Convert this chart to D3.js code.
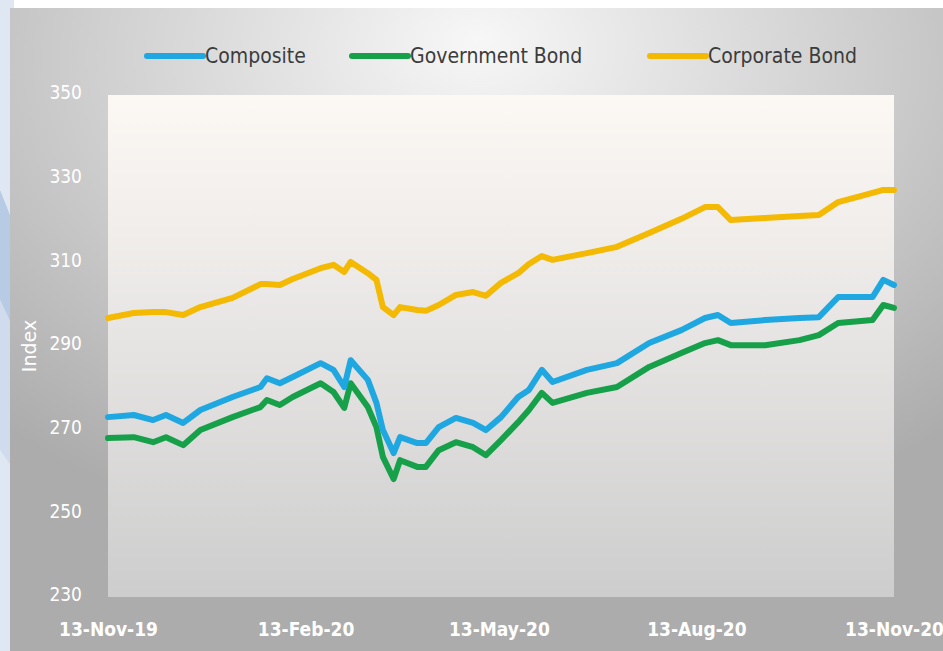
<!DOCTYPE html>
<html><head><meta charset="utf-8">
<script src="https://cdn.jsdelivr.net/npm/d3@7"></script>
<style>
html,body{margin:0;padding:0;background:#fff;}
svg{display:block;}
</style></head>
<body>
<svg id="chart" width="943" height="651"></svg>
<script>
const dates = ["2019-11-13","2019-11-25","2019-12-04","2019-12-10","2019-12-18","2019-12-26","2020-01-10","2020-01-23","2020-01-26","2020-02-01","2020-02-07","2020-02-20","2020-02-26","2020-03-02","2020-03-05","2020-03-13","2020-03-17","2020-03-20","2020-03-25","2020-03-28","2020-04-05","2020-04-09","2020-04-15","2020-04-23","2020-05-01","2020-05-07","2020-05-14","2020-05-22","2020-05-27","2020-06-02","2020-06-07","2020-06-23","2020-07-07","2020-07-22","2020-08-06","2020-08-17","2020-08-23","2020-08-29","2020-09-14","2020-09-30","2020-10-09","2020-10-18","2020-11-03","2020-11-08","2020-11-13"];
const composite = [273.0,273.5,272.3,273.5,271.6,274.7,277.8,280.2,282.3,281.1,282.6,285.9,284.3,280.2,286.6,281.9,276.4,269.9,264.4,268.2,266.8,266.8,270.6,272.8,271.6,269.9,273.0,277.8,279.5,284.3,281.4,284.3,285.9,290.7,293.8,296.7,297.4,295.5,296.2,296.7,296.9,301.7,301.7,305.8,304.6];
const governmentBond = [268.0,268.2,267.0,268.2,266.3,269.9,273.0,275.4,277.1,275.9,277.8,281.1,279.0,275.2,281.1,275.4,270.6,263.5,258.2,262.7,261.1,261.1,265.1,267.0,265.8,263.9,267.5,271.8,274.7,278.8,276.4,278.8,280.2,285.0,288.3,290.7,291.4,290.2,290.2,291.4,292.6,295.5,296.2,299.8,299.1];
const corporateBond = [296.7,297.9,298.1,298.1,297.4,299.3,301.5,304.8,304.8,304.6,306.0,308.6,309.4,307.7,310.1,307.4,305.8,299.3,297.4,299.3,298.6,298.4,299.8,302.2,302.9,302.0,305.1,307.4,309.6,311.5,310.6,312.2,313.7,317.0,320.4,323.2,323.2,320.1,320.6,321.1,321.3,324.4,326.6,327.3,327.3];
const seriesNames = ["Composite","Government Bond","Corporate Bond"];
const seriesColors = ["#1ea7e1","#17a04a","#f4b903"];
const yTicks = [230,250,270,290,310,330,350];
const xTickDates = ["2019-11-13","2020-02-13","2020-05-13","2020-08-13","2020-11-13"];
const xTickLabels = ["13-Nov-19","13-Feb-20","13-May-20","13-Aug-20","13-Nov-20"];

const parse = d3.timeParse("%Y-%m-%d");
const svg = d3.select("#chart");
const W = 943, H = 651;
const font = "'Liberation Sans Narrow','DejaVu Sans Condensed',Arial,sans-serif";

const defs = svg.append("defs");
const og = defs.append("radialGradient").attr("id","outerBg")
  .attr("cx","50%").attr("cy","10%").attr("r","75%").attr("fx","50%").attr("fy","5%");
og.append("stop").attr("offset","0%").attr("stop-color","#f7f7f7");
og.append("stop").attr("offset","55%").attr("stop-color","#cfcfcf");
og.append("stop").attr("offset","100%").attr("stop-color","#acacac");
const pg = defs.append("linearGradient").attr("id","plotBg").attr("x1",0).attr("y1",0).attr("x2",0).attr("y2",1);
pg.append("stop").attr("offset","0%").attr("stop-color","#fcf8f4");
pg.append("stop").attr("offset","50%").attr("stop-color","#e6e4e3");
pg.append("stop").attr("offset","100%").attr("stop-color","#cdcdcd");

// page decoration at left/top
svg.append("rect").attr("x",0).attr("y",0).attr("width",W).attr("height",H).attr("fill","#ffffff");
svg.append("rect").attr("x",0).attr("y",0).attr("width",14).attr("height",H).attr("fill","#dfe7f2");
svg.append("path").attr("d","M0,190 L14,225 L14,330 L0,300 Z").attr("fill","#b8cbe4");
svg.append("path").attr("d","M0,300 L14,330 L14,470 L0,450 Z").attr("fill","#d0dced");

// chart area
svg.append("rect").attr("x",10).attr("y",8).attr("width",W-10).attr("height",H-8).attr("fill","url(#outerBg)");

const m = {left:108, right:894, top:95, bottom:597};
const x = d3.scaleTime().domain([parse("2019-11-13"), parse("2020-11-13")]).range([m.left, m.right]);
const y = d3.scaleLinear().domain([230,350]).range([m.bottom, m.top]);

svg.append("rect").attr("x",m.left).attr("y",m.top).attr("width",m.right-m.left).attr("height",m.bottom-m.top).attr("fill","url(#plotBg)");

// Y axis
const yAxis = d3.axisLeft(y).tickValues(yTicks).tickSize(0).tickPadding(26);
const gy = svg.append("g").attr("transform",`translate(${m.left},0)`).call(yAxis);
gy.select(".domain").remove();
gy.selectAll("text").attr("fill","#ffffff").attr("dy","0.2em").style("font-family",font).style("font-size","19px");

// X axis
const xAxis = d3.axisBottom(x).tickValues(xTickDates.map(parse)).tickSize(0).tickPadding(26)
  .tickFormat((d,i)=>xTickLabels[i]);
const gx = svg.append("g").attr("transform",`translate(0,${m.bottom})`).call(xAxis);
gx.select(".domain").remove();
gx.selectAll("text").attr("fill","#ffffff").style("font-family",font).style("font-size","19px").style("font-weight","bold");

// axis title
svg.append("text").attr("transform","translate(36,346) rotate(-90)").attr("text-anchor","middle")
  .attr("fill","#ffffff").style("font-family","'DejaVu Sans',sans-serif").style("font-size","19px").text("Index");

// lines
const allSeries = [composite, governmentBond, corporateBond];
const line = d3.line().x(d=>x(d.date)).y(d=>y(d.v)).curve(d3.curveLinear);
[2,1,0].forEach(i=>{
  const data = dates.map((d,j)=>({date:parse(d), v:allSeries[i][j]}));
  svg.append("path").datum(data).attr("d",line).attr("fill","none")
    .attr("stroke",seriesColors[i]).attr("stroke-width",6).attr("stroke-linejoin","round").attr("stroke-linecap","round");
});

// legend
const legendX = [147,352,650];
seriesNames.forEach((n,i)=>{
  const g = svg.append("g").attr("transform",`translate(${legendX[i]},56)`);
  g.append("line").attr("x1",0).attr("x2",56).attr("y1",0).attr("y2",0)
    .attr("stroke",seriesColors[i]).attr("stroke-width",6).attr("stroke-linecap","round");
  g.append("text").attr("x",58).attr("y",7).attr("fill","#3c3c3c")
    .style("font-family",font).style("font-size","21px").text(n);
});
</script>
</body></html>
